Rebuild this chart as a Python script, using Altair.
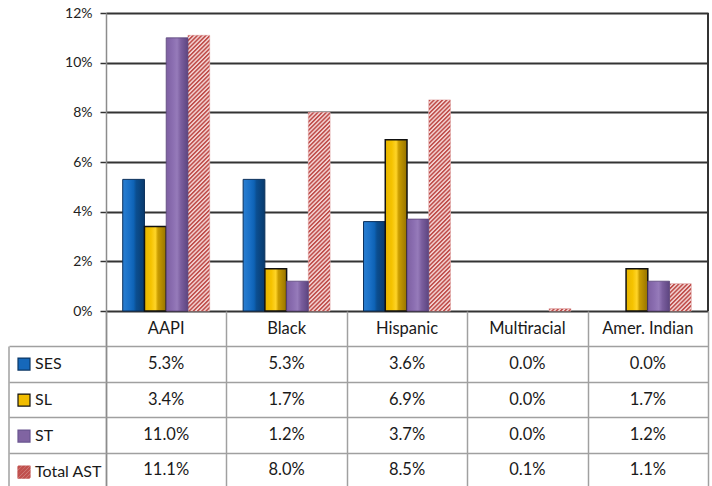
import altair as alt
import pandas as pd
from urllib.parse import quote

# ---- data -------------------------------------------------------------
CATEGORIES = ["AAPI", "Black", "Hispanic", "Multiracial", "Amer. Indian"]
SERIES = ["SES", "SL", "ST", "Total AST"]
SES = [5.3, 5.3, 3.6, 0.0, 0.0]
SL = [3.4, 1.7, 6.9, 0.0, 1.7]
ST = [11.0, 1.2, 3.7, 0.0, 1.2]
TOTAL_AST = [11.1, 8.0, 8.5, 0.1, 1.1]
Y_TICKS = [0, 2, 4, 6, 8, 10, 12]

VALUES = {"SES": SES, "SL": SL, "ST": ST, "Total AST": TOTAL_AST}

# ---- layout -----------------------------------------------------------
PLOT_W = 602          # width of the category columns
BAR_H = 298           # height of the bar area (0% .. 12%)
ROW_H = 35.4          # height of one data-table row
N_ROWS = 1 + len(SERIES)
TABLE_H = N_ROWS * ROW_H
TOTAL_H = BAR_H + TABLE_H
LEGEND_COL_W = 97     # width of the series-name column left of the plot
Y_MAX = 12
Y_MIN = -Y_MAX * TABLE_H / BAR_H   # bar scale continues down through the table

FONT = "Lato"
GRID_DARK = "#333333"
TABLE_GRAY = "#a0a0a0"
TEXT = "#1a1a1a"

# long table of bar values
rows = []
for s in SERIES:
    for c, v in zip(CATEGORIES, VALUES[s]):
        rows.append({"category": c, "series": s, "value": v, "base": 0.0})
bars = pd.DataFrame(rows)

# data-table cells: rows counted from the bottom, header on top
cells = []
for c in CATEGORIES:
    cells.append({"category": c, "trow": N_ROWS - 0.5, "label": c})
for i, s in enumerate(SERIES):
    center = N_ROWS - 1.5 - i
    for c, v in zip(CATEGORIES, VALUES[s]):
        cells.append({"category": c, "trow": center, "label": f"{v:.1f}%"})
cells = pd.DataFrame(cells)

# ---- shared encodings --------------------------------------------------
x_enc = alt.X(
    "category:N",
    sort=CATEGORIES,
    scale=alt.Scale(domain=CATEGORIES, paddingInner=0, paddingOuter=0),
    axis=alt.Axis(
        orient="bottom", offset=-TABLE_H, tickSize=TABLE_H, tickBand="extent",
        labels=False, domain=False, title=None, grid=False,
        tickColor=TABLE_GRAY, tickWidth=1.5,
    ),
)
x_off = alt.XOffset("series:N", scale=alt.Scale(domain=SERIES, paddingInner=0, paddingOuter=0.77))

bar_scale = alt.Scale(domain=[Y_MIN, Y_MAX], nice=False, zero=False)
bar_axis = alt.Axis(
    values=Y_TICKS, labelExpr="datum.value + '%'", title=None,
    grid=True, gridColor=GRID_DARK, gridWidth=1.8,
    tickSize=6, tickColor=GRID_DARK, tickWidth=1.5,
    domainColor="#8c8c8c", domainWidth=1.5,
    labelFont=FONT, labelFontSize=14, labelColor="#222222", labelPadding=8,
)


def y_bar(field):
    return alt.Y(field, scale=bar_scale, axis=bar_axis)


table_scale = alt.Scale(domain=[0, TOTAL_H / ROW_H], nice=False, zero=False)
table_axis = alt.Axis(
    orient="left", values=list(range(1, N_ROWS)), title=None,
    labels=False, domain=False, grid=True, gridColor=TABLE_GRAY, gridWidth=1.5,
    tickSize=LEGEND_COL_W, tickColor=TABLE_GRAY, tickWidth=1.5,
)


def y_table(field):
    return alt.Y(field, scale=table_scale, axis=table_axis)


def grad(stops):
    return alt.LinearGradient(
        gradient="linear", x1=0, x2=1, y1=0, y2=0,
        stops=[alt.GradientStop(offset=o, color=c) for o, c in stops],
    )


# ---- bars -------------------------------------------------------------
base = alt.Chart(bars)


def series_bar(name, fill, stroke, width):
    return base.transform_filter(
        (alt.datum.series == name) & (alt.datum.value > 0)
    ).mark_bar(fill=fill, stroke=stroke, strokeWidth=width).encode(
        x=x_enc, xOffset=x_off, y=y_bar("value:Q"), y2="base:Q"
    )


ses_bar = series_bar(
    "SES",
    grad([(0, "#2a7fd2"), (0.3, "#1a70c6"), (0.5, "#0e63b6"), (0.62, "#0b4e90"), (1, "#093a6c")]),
    "#0a2f5a", 1,
)
sl_bar = series_bar(
    "SL",
    grad([(0, "#e6b400"), (0.3, "#f5c300"), (0.5, "#ffd427"), (0.62, "#c99c00"), (1, "#967300")]),
    "#111111", 1.5,
)
st_bar = series_bar(
    "ST",
    grad([(0, "#7d60a1"), (0.3, "#8b6eb1"), (0.5, "#967bba"), (0.68, "#7a5e9e"), (1, "#5d4580")]),
    "#5a4578", 0.8,
)

# hatched "Total AST" bars: pink base with a diagonal stripe pattern on top
hatch_svg = (
    "<svg xmlns='http://www.w3.org/2000/svg'>"
    "<defs><pattern id='h' width='3' height='3' patternUnits='userSpaceOnUse' "
    "patternTransform='rotate(45)'>"
    "<rect width='3' height='3' fill='#f4d6d6'/>"
    "<rect width='1.6' height='3' fill='#c0504d'/>"
    "</pattern></defs>"
    "<rect width='100%' height='100%' fill='url(#h)'/></svg>"
)
hatch_url = "data:image/svg+xml;charset=utf-8," + quote(hatch_svg)

total = base.transform_filter(alt.datum.series == "Total AST")
total_base = total.mark_bar(fill="#e0a09f", stroke="#e3b0b0", strokeWidth=0.8).encode(
    x=x_enc, xOffset=x_off, y=y_bar("value:Q"), y2="base:Q"
)
total_hatch = total.mark_image(url=hatch_url, aspect=False).encode(
    x=x_enc, xOffset=x_off, y=y_bar("value:Q"), y2="base:Q"
)

# dark right edge of the bar area
edge = alt.Chart(pd.DataFrame({"lo": [0], "hi": [Y_MAX]})).mark_rule(
    color=GRID_DARK, strokeWidth=2
).encode(x=alt.value(PLOT_W), y=y_bar("lo:Q"), y2="hi:Q")

bar_group = alt.layer(total_base, total_hatch, ses_bar, sl_bar, st_bar, edge)

# ---- data table ---------------------------------------------------------
cell_text = alt.Chart(cells).mark_text(
    font=FONT, fontSize=16.5, color=TEXT, baseline="middle"
).encode(x=x_enc, y=y_table("trow:Q"), text="label:N")


def stripes_path():
    """Diagonal stripes clipped to the unit square, as an SVG path."""
    def clip(poly, a, b, c):
        out = []
        for i in range(len(poly)):
            p, q = poly[i], poly[(i + 1) % len(poly)]
            fp = a * p[0] + b * p[1] + c
            fq = a * q[0] + b * q[1] + c
            if fp >= 0:
                out.append(p)
            if (fp >= 0) != (fq >= 0):
                t = fp / (fp - fq)
                out.append((p[0] + t * (q[0] - p[0]), p[1] + t * (q[1] - p[1])))
        return out

    square = [(-1, -1), (1, -1), (1, 1), (-1, 1)]
    parts = []
    c = -1.9
    while c < 2:
        poly = clip(square, 1, 1, -c)
        poly = clip(poly, -1, -1, c + 0.36)
        if len(poly) >= 3:
            parts.append("M" + "L".join(f"{x:.3f},{y:.3f}" for x, y in poly) + "Z")
        c += 0.68
    return "".join(parts)


SQUARE = "M-1,-1H1V1H-1Z"
legend = alt.Legend(
    orient="none", legendX=-90, legendY=TOTAL_H - (N_ROWS - 1) * ROW_H,
    title=None, direction="vertical", padding=0, offset=0,
    symbolSize=144, symbolOpacity=1, symbolStrokeWidth=1.2,
    labelFont=FONT, labelFontSize=16, labelColor=TEXT, labelOffset=3,
    clipHeight=ROW_H, rowPadding=0,
)
legend_src = alt.Chart(bars).mark_point(filled=True, opacity=0).encode(
    color=alt.Color("series:N", sort=SERIES, legend=legend,
                    scale=alt.Scale(domain=SERIES, range=["#1668ba", "#f1bd00", "#8064a2", "#c0504d"])),
    shape=alt.Shape("series:N", sort=SERIES, legend=legend,
                    scale=alt.Scale(domain=SERIES, range=[SQUARE, SQUARE, SQUARE, stripes_path()])),
    stroke=alt.Stroke("series:N", sort=SERIES, legend=legend,
                      scale=alt.Scale(domain=SERIES, range=["#0b3766", "#111111", "#6a5590", "#c0504d"])),
)

# left border of the series-name column
left_border = alt.Chart(pd.DataFrame({"lo": [0], "hi": [N_ROWS - 1]})).mark_rule(
    color=TABLE_GRAY, strokeWidth=1.5
).encode(x=alt.value(-LEGEND_COL_W), y=y_table("lo:Q"), y2="hi:Q")

table_group = alt.layer(left_border, cell_text, legend_src)

chart = (
    alt.layer(bar_group, table_group)
    .resolve_scale(y="independent")
    .properties(
        width=PLOT_W, height=TOTAL_H,
        autosize=alt.AutoSizeParams(type="none"),
        padding={"left": 106, "top": 13, "right": 4, "bottom": 0},
        background="white",
    )
    .configure_view(stroke=None)
)

chart.save("out.html", embed_options={"renderer": "svg", "actions": False})
